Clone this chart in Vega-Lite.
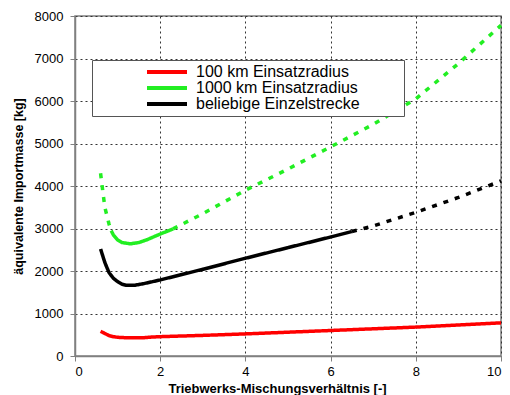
{
  "$schema": "https://vega.github.io/schema/vega-lite/v6.json",
  "width": 426,
  "height": 340,
  "autosize": "none",
  "padding": {"left": 75, "top": 16, "right": 9, "bottom": 39},
  "config": {
    "font": "Liberation Sans",
    "view": {"stroke": "#808080", "strokeWidth": 1.5},
    "axis": {
      "domainColor": "#808080",
      "domainWidth": 1.5,
      "tickColor": "#808080",
      "tickSize": 5,
      "gridColor": "#333333",
      "gridDash": [2, 3],
      "gridWidth": 1,
      "gridOpacity": 1,
      "labelFont": "Liberation Sans",
      "labelFontSize": 13,
      "labelColor": "#000000",
      "titleFont": "Liberation Sans",
      "titleFontSize": 12.5,
      "titleFontWeight": "bold",
      "titleColor": "#000000"
    }
  },
  "data": {
    "values": [
      {"series": "100 km Einsatzradius", "seg": "r", "style": "solid", "x": 0.6, "y": 580},
      {"series": "100 km Einsatzradius", "seg": "r", "style": "solid", "x": 0.7, "y": 530},
      {"series": "100 km Einsatzradius", "seg": "r", "style": "solid", "x": 0.8, "y": 480},
      {"series": "100 km Einsatzradius", "seg": "r", "style": "solid", "x": 0.9, "y": 455},
      {"series": "100 km Einsatzradius", "seg": "r", "style": "solid", "x": 1.0, "y": 440},
      {"series": "100 km Einsatzradius", "seg": "r", "style": "solid", "x": 1.2, "y": 430},
      {"series": "100 km Einsatzradius", "seg": "r", "style": "solid", "x": 1.4, "y": 428},
      {"series": "100 km Einsatzradius", "seg": "r", "style": "solid", "x": 1.6, "y": 430},
      {"series": "100 km Einsatzradius", "seg": "r", "style": "solid", "x": 1.8, "y": 445},
      {"series": "100 km Einsatzradius", "seg": "r", "style": "solid", "x": 2.0, "y": 455},
      {"series": "100 km Einsatzradius", "seg": "r", "style": "solid", "x": 3.0, "y": 485},
      {"series": "100 km Einsatzradius", "seg": "r", "style": "solid", "x": 4.0, "y": 520},
      {"series": "100 km Einsatzradius", "seg": "r", "style": "solid", "x": 5.0, "y": 560},
      {"series": "100 km Einsatzradius", "seg": "r", "style": "solid", "x": 6.0, "y": 600},
      {"series": "100 km Einsatzradius", "seg": "r", "style": "solid", "x": 7.0, "y": 640},
      {"series": "100 km Einsatzradius", "seg": "r", "style": "solid", "x": 8.0, "y": 680},
      {"series": "100 km Einsatzradius", "seg": "r", "style": "solid", "x": 9.0, "y": 730},
      {"series": "100 km Einsatzradius", "seg": "r", "style": "solid", "x": 10.0, "y": 780},

      {"series": "1000 km Einsatzradius", "seg": "g1", "style": "dashed", "x": 0.6, "y": 4300},
      {"series": "1000 km Einsatzradius", "seg": "g1", "style": "dashed", "x": 0.65, "y": 3900},
      {"series": "1000 km Einsatzradius", "seg": "g1", "style": "dashed", "x": 0.7, "y": 3500},
      {"series": "1000 km Einsatzradius", "seg": "g1", "style": "dashed", "x": 0.8, "y": 3100},
      {"series": "1000 km Einsatzradius", "seg": "g1", "style": "dashed", "x": 0.85, "y": 2950},
      {"series": "1000 km Einsatzradius", "seg": "g2", "style": "solid", "x": 0.85, "y": 2950},
      {"series": "1000 km Einsatzradius", "seg": "g2", "style": "solid", "x": 0.9, "y": 2850},
      {"series": "1000 km Einsatzradius", "seg": "g2", "style": "solid", "x": 1.0, "y": 2730},
      {"series": "1000 km Einsatzradius", "seg": "g2", "style": "solid", "x": 1.1, "y": 2670},
      {"series": "1000 km Einsatzradius", "seg": "g2", "style": "solid", "x": 1.3, "y": 2640},
      {"series": "1000 km Einsatzradius", "seg": "g2", "style": "solid", "x": 1.5, "y": 2670},
      {"series": "1000 km Einsatzradius", "seg": "g2", "style": "solid", "x": 1.7, "y": 2740},
      {"series": "1000 km Einsatzradius", "seg": "g2", "style": "solid", "x": 2.0, "y": 2870},
      {"series": "1000 km Einsatzradius", "seg": "g2", "style": "solid", "x": 2.3, "y": 2990},
      {"series": "1000 km Einsatzradius", "seg": "g3", "style": "dashed", "x": 2.3, "y": 2990},
      {"series": "1000 km Einsatzradius", "seg": "g3", "style": "dashed", "x": 3.0, "y": 3350},
      {"series": "1000 km Einsatzradius", "seg": "g3", "style": "dashed", "x": 4.0, "y": 3900},
      {"series": "1000 km Einsatzradius", "seg": "g3", "style": "dashed", "x": 5.0, "y": 4400},
      {"series": "1000 km Einsatzradius", "seg": "g3", "style": "dashed", "x": 6.0, "y": 4920},
      {"series": "1000 km Einsatzradius", "seg": "g3", "style": "dashed", "x": 7.0, "y": 5450},
      {"series": "1000 km Einsatzradius", "seg": "g3", "style": "dashed", "x": 8.0, "y": 6050},
      {"series": "1000 km Einsatzradius", "seg": "g3", "style": "dashed", "x": 9.0, "y": 6880},
      {"series": "1000 km Einsatzradius", "seg": "g3", "style": "dashed", "x": 10.0, "y": 7780},

      {"series": "beliebige Einzelstrecke", "seg": "b1", "style": "solid", "x": 0.6, "y": 2520},
      {"series": "beliebige Einzelstrecke", "seg": "b1", "style": "solid", "x": 0.7, "y": 2200},
      {"series": "beliebige Einzelstrecke", "seg": "b1", "style": "solid", "x": 0.8, "y": 1960},
      {"series": "beliebige Einzelstrecke", "seg": "b1", "style": "solid", "x": 0.9, "y": 1830},
      {"series": "beliebige Einzelstrecke", "seg": "b1", "style": "solid", "x": 1.0, "y": 1750},
      {"series": "beliebige Einzelstrecke", "seg": "b1", "style": "solid", "x": 1.1, "y": 1690},
      {"series": "beliebige Einzelstrecke", "seg": "b1", "style": "solid", "x": 1.2, "y": 1665},
      {"series": "beliebige Einzelstrecke", "seg": "b1", "style": "solid", "x": 1.4, "y": 1665},
      {"series": "beliebige Einzelstrecke", "seg": "b1", "style": "solid", "x": 1.6, "y": 1700},
      {"series": "beliebige Einzelstrecke", "seg": "b1", "style": "solid", "x": 2.0, "y": 1790},
      {"series": "beliebige Einzelstrecke", "seg": "b1", "style": "solid", "x": 3.0, "y": 2040},
      {"series": "beliebige Einzelstrecke", "seg": "b1", "style": "solid", "x": 4.0, "y": 2300},
      {"series": "beliebige Einzelstrecke", "seg": "b1", "style": "solid", "x": 5.0, "y": 2550},
      {"series": "beliebige Einzelstrecke", "seg": "b1", "style": "solid", "x": 6.0, "y": 2800},
      {"series": "beliebige Einzelstrecke", "seg": "b1", "style": "solid", "x": 6.5, "y": 2930},
      {"series": "beliebige Einzelstrecke", "seg": "b2", "style": "dashed", "x": 6.5, "y": 2930},
      {"series": "beliebige Einzelstrecke", "seg": "b2", "style": "dashed", "x": 7.0, "y": 3060},
      {"series": "beliebige Einzelstrecke", "seg": "b2", "style": "dashed", "x": 8.0, "y": 3380},
      {"series": "beliebige Einzelstrecke", "seg": "b2", "style": "dashed", "x": 9.0, "y": 3730},
      {"series": "beliebige Einzelstrecke", "seg": "b2", "style": "dashed", "x": 10.0, "y": 4120}
    ]
  },
  "mark": {"type": "line", "strokeWidth": 3.5, "strokeCap": "butt"},
  "encoding": {
    "x": {
      "field": "x",
      "type": "quantitative",
      "scale": {"domain": [0, 10], "nice": false},
      "axis": {"values": [0, 2, 4, 6, 8, 10], "format": "d", "title": "Triebwerks-Mischungsverhältnis [-]", "titleFontSize": 13, "titleX": 202, "labelPadding": 4, "titlePadding": 4}
    },
    "y": {
      "field": "y",
      "type": "quantitative",
      "scale": {"domain": [0, 8000], "nice": false},
      "axis": {"values": [0, 1000, 2000, 3000, 4000, 5000, 6000, 7000, 8000], "format": "d", "title": "äquivalente Importmasse [kg]", "labelPadding": 7, "titlePadding": 9}
    },
    "color": {
      "field": "series",
      "type": "nominal",
      "scale": {
        "domain": ["100 km Einsatzradius", "1000 km Einsatzradius", "beliebige Einzelstrecke"],
        "range": ["#ff0000", "#22ee22", "#000000"]
      },
      "legend": {
        "title": " ",
        "titleOrient": "right",
        "titlePadding": 40,
        "titleFontSize": 16,
        "orient": "none",
        "legendX": 17,
        "legendY": 44,
        "strokeColor": "#555555",
        "fillColor": "#ffffff",
        "padding": 4,
        "symbolOffset": 63,
        "symbolType": "M-5,0H5",
        "symbolSize": 64,
        "symbolStrokeWidth": 4,
        "labelFontSize": 16,
        "labelFont": "Liberation Sans",
        "labelColor": "#000000",
        "labelOffset": 21,
        "rowPadding": 0,
        "labelLimit": 300
      }
    },
    "detail": {"field": "seg", "type": "nominal"},
    "strokeDash": {
      "field": "style",
      "type": "nominal",
      "scale": {"domain": ["solid", "dashed"], "range": [[1, 0], [5, 7]]},
      "legend": null
    }
  }
}
